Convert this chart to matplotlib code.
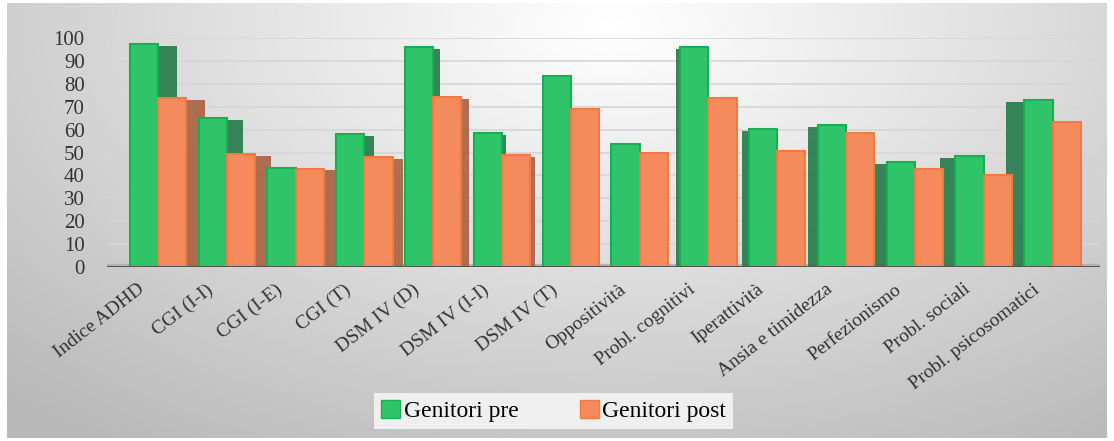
import numpy as np
import matplotlib
matplotlib.use("Agg")
import matplotlib.pyplot as plt
from matplotlib.patches import Patch

categories = ["Indice ADHD", "CGI (I-I)", "CGI (I-E)", "CGI (T)", "DSM IV (D)",
              "DSM IV (I-I)", "DSM IV (T)", "Oppositività", "Probl. cognitivi",
              "Iperattività", "Ansia e timidezza", "Perfezionismo",
              "Probl. sociali", "Probl. psicosomatici"]
pre = [97.4, 64.9, 43.1, 58.0, 96.2, 58.4, 83.4, 53.6, 96.2, 60.3, 62.0, 45.7, 48.6, 72.9]
post = [73.7, 49.3, 43.0, 47.9, 74.1, 48.9, 68.9, 49.6, 73.9, 50.7, 58.4, 43.0, 40.2, 63.2]
series_names = ["Genitori pre", "Genitori post"]
yticks = list(range(0, 101, 10))

plt.rcParams['font.family'] = ['Liberation Serif', 'DejaVu Serif']

fig = plt.figure(figsize=(11.14, 4.41), dpi=100)

# gray gradient background
bg = fig.add_axes([7/1114, 3/441, 1100/1114, 435/441], zorder=-2)
yy, xx = np.mgrid[0:1:200j, 0:1:400j]
d = np.sqrt(((xx - 0.55) / 0.75) ** 2 + ((yy - 0.05) / 1.1) ** 2)
shade = np.clip(1.0 - 0.26 * d, 0.72, 1.0)
bg.imshow(shade, cmap='gray', vmin=0, vmax=1, aspect='auto', extent=[0, 1, 1, 0])
bg.axis('off')

ax = fig.add_axes([107/1114, 1 - 267/441, 993/1114, 229/441])
ax.set_facecolor('none')

x = np.arange(len(categories))
w = 0.41
green, green_dark, green_edge = '#2fc46a', '#237a48', '#16b052'
orange, orange_dark, orange_edge = '#f58a5c', '#a8613f', '#f07a44'

# pseudo 3D side faces, shift depends on position (perspective)
shift = 0.042 * (6.5 - x)
for xs, vals, dark in [(x - w/2, pre, green_dark), (x + w/2, post, orange_dark)]:
    ax.bar(xs + shift, np.array(vals) - 0.8, w, color=dark, alpha=0.9, zorder=2)

ax.bar(x - w/2, pre, w, color=green, edgecolor=green_edge, linewidth=1.5, zorder=3)
ax.bar(x + w/2, post, w, color=orange, edgecolor=orange_edge, linewidth=1.5, zorder=4)

ax.axhspan(0, 1.2, color='#b5b5b5', zorder=1)
ax.axhline(0, color='#555555', lw=2.2, zorder=5)

ax.set_ylim(0, 100)
ax.set_xlim(-0.74, 13.69)
ax.set_yticks(yticks)
ax.set_yticklabels([str(t) for t in yticks], fontsize=15, color='#333333')
ax.yaxis.grid(True, color='#d6d6d6', lw=1.2, zorder=0)
ax.set_axisbelow(True)
ax.tick_params(axis='y', length=0, pad=16)
ax.tick_params(axis='x', length=0, pad=10)
ax.set_xticks(x - 0.3)
ax.set_xticklabels(categories, rotation=38, ha='right', rotation_mode='anchor',
                   fontsize=14, color='#333333')
for s in ax.spines.values():
    s.set_visible(False)

handles = [Patch(facecolor=green, edgecolor=green_edge), Patch(facecolor=orange, edgecolor=orange_edge)]
leg = fig.legend(handles, series_names, loc='lower center', bbox_to_anchor=(0.497, 0.0),
                 ncol=2, fontsize=17, frameon=True, fancybox=False, handlelength=0.8,
                 handleheight=0.8, handletextpad=0.15, columnspacing=2.6, borderpad=0.3)
leg.get_frame().set_facecolor('#efefef')
leg.get_frame().set_edgecolor('none')
leg.get_frame().set_alpha(1)

fig.savefig('out.png', dpi=100)
